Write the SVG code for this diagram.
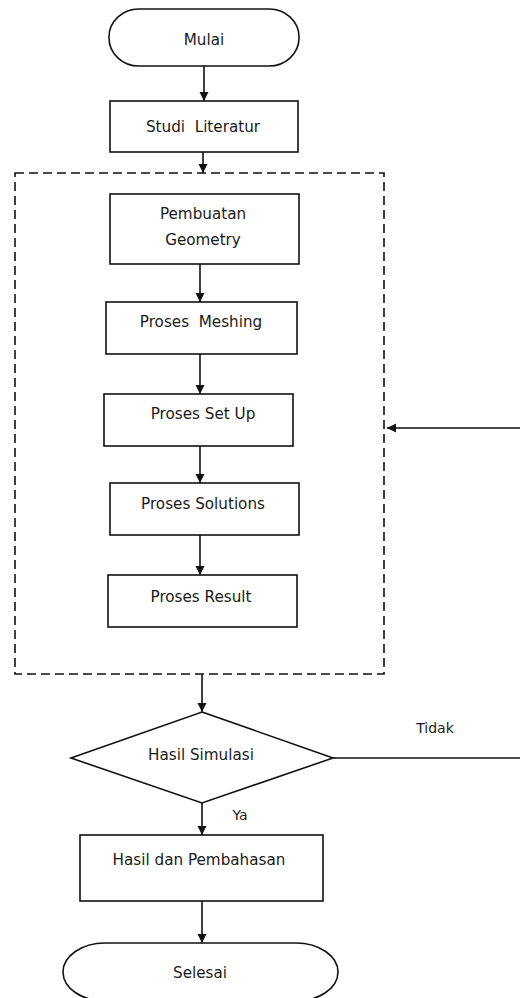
<svg xmlns="http://www.w3.org/2000/svg" width="520" height="998" viewBox="0 0 520 998">
<style>
.s{fill:#fff;stroke:#111;stroke-width:1.6}
.t{font-family:"DejaVu Sans",sans-serif;font-size:15.2px;fill:#1a1a1a;text-anchor:middle}
.c{stroke:#111;stroke-width:1.6;fill:none}
.d{stroke:#111;stroke-width:1.6;fill:none;stroke-dasharray:9 5}
</style>
<defs>
<marker id="ah" markerUnits="userSpaceOnUse" markerWidth="10" markerHeight="10" refX="9" refY="5" orient="auto">
<path d="M0,0.5 L9,5 L0,9.5 z" fill="#111"/>
</marker>
</defs>
<rect width="520" height="998" fill="#fff"/>
<g id="process-group">
<rect class="d" x="15" y="173" width="369" height="501"/>
</g>
<g id="connectors">
<line class="c" x1="204" y1="66" x2="204" y2="101" marker-end="url(#ah)"/>
<line class="c" x1="203" y1="152" x2="203" y2="173" marker-end="url(#ah)"/>
<line class="c" x1="200" y1="264" x2="200" y2="302" marker-end="url(#ah)"/>
<line class="c" x1="200" y1="354" x2="200" y2="394" marker-end="url(#ah)"/>
<line class="c" x1="200" y1="446" x2="200" y2="483" marker-end="url(#ah)"/>
<line class="c" x1="200" y1="535" x2="200" y2="575" marker-end="url(#ah)"/>
<line class="c" x1="202" y1="674" x2="202" y2="712" marker-end="url(#ah)"/>
<line class="c" x1="202" y1="803" x2="202" y2="835" marker-end="url(#ah)"/>
<line class="c" x1="202" y1="901" x2="202" y2="943" marker-end="url(#ah)"/>
<path class="c" d="M333,758 H522 V428 H387" marker-end="url(#ah)"/>
<text class="t" x="435" y="733" style="font-size:14px">Tidak</text>
<text class="t" x="240" y="820" style="font-size:14px">Ya</text>
</g>
<g id="mulai">
<rect class="s" x="109" y="9" width="190" height="57" rx="30" ry="28"/>
<text class="t" x="204" y="45">Mulai</text>
</g>
<g id="studi-literatur">
<rect class="s" x="110" y="101" width="188" height="51"/>
<text class="t" x="203" y="132" xml:space="preserve">Studi  Literatur</text>
</g>
<g id="pembuatan-geometry">
<rect class="s" x="110" y="194" width="189" height="70"/>
<text class="t" x="203" y="219">Pembuatan</text>
<text class="t" x="203" y="245">Geometry</text>
</g>
<g id="proses-meshing">
<rect class="s" x="106" y="302" width="191" height="52"/>
<text class="t" x="201" y="327" xml:space="preserve">Proses  Meshing</text>
</g>
<g id="proses-setup">
<rect class="s" x="104" y="394" width="189" height="52"/>
<text class="t" x="203" y="419">Proses Set Up</text>
</g>
<g id="proses-solutions">
<rect class="s" x="110" y="483" width="189" height="52"/>
<text class="t" x="203" y="509">Proses Solutions</text>
</g>
<g id="proses-result">
<rect class="s" x="108" y="575" width="189" height="52"/>
<text class="t" x="201" y="602">Proses Result</text>
</g>
<g id="hasil-simulasi">
<polygon class="s" points="202,712 333,758 202,803 71,758"/>
<text class="t" x="201" y="760">Hasil Simulasi</text>
</g>
<g id="hasil-pembahasan">
<rect class="s" x="80" y="835" width="243" height="66"/>
<text class="t" x="199" y="865">Hasil dan Pembahasan</text>
</g>
<g id="selesai">
<rect class="s" x="63" y="943" width="275" height="58" rx="42" ry="29"/>
<text class="t" x="200" y="978">Selesai</text>
</g>
</svg>
